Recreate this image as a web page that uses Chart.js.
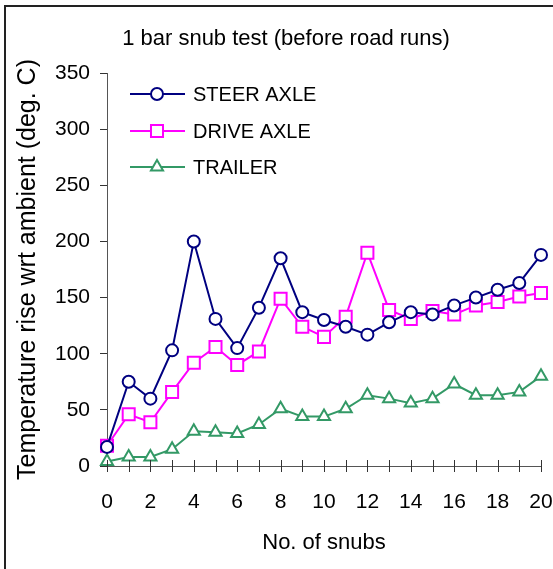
<!DOCTYPE html>
<html lang="en">
<head>
  <meta charset="UTF-8">
  <title>1 bar snub test</title>
  <script src="https://cdn.jsdelivr.net/npm/chart.js"></script>
  <style>
    body { margin: 0; background: #fff; }
    #wrap { position: relative; width: 553px; height: 569px; overflow: hidden; }
    #frame { position: absolute; left: 4px; top: 5px; width: 700px; height: 700px;
             border-left: 2px solid #222; border-top: 2px solid #222; }
    #chart { position: absolute; left: 0; top: 0; }
  </style>
</head>
<body>
  <div id="wrap">
    <div id="frame"></div>
    <canvas id="chart" width="553" height="569"></canvas>
  </div>

  <script>
    // data
    const snubs = [0, 1, 2, 3, 4, 5, 6, 7, 8, 9, 10, 11, 12, 13, 14, 15, 16, 17, 18, 19, 20];
    const steerAxle = [17, 75, 60, 103, 200, 131, 105, 141, 185, 137, 130, 124, 117, 128, 137, 135, 143, 150, 157, 163, 188];
    const driveAxle = [18, 46, 39, 66, 92, 106, 90, 102, 149, 124, 115, 133, 190, 139, 131, 138, 135, 143, 146, 151, 154];
    const trailer = [4, 8, 8, 15, 31, 30, 29, 37, 51, 44, 44, 51, 63, 60, 56, 60, 73, 63, 63, 66, 80];
    const xLabelEvery = 2;
    const yMin = 0, yMax = 350, yStep = 50;

    const FONT = 'Liberation Sans, Arial, sans-serif';

    function toPoints(vals) {
      return vals.map((v, i) => ({ x: snubs[i], y: v }));
    }

    function marker(ctx, style, x, y, r) {
      ctx.beginPath();
      if (style === 'circle') {
        ctx.arc(x, y, r, 0, Math.PI * 2);
      } else if (style === 'rect') {
        const s = Math.SQRT1_2 * r;
        ctx.rect(x - s, y - s, 2 * s, 2 * s);
      } else {
        ctx.moveTo(x, y - r);
        ctx.lineTo(x + r * Math.sin(Math.PI / 3), y + r / 2);
        ctx.lineTo(x - r * Math.sin(Math.PI / 3), y + r / 2);
        ctx.closePath();
      }
      ctx.fill();
      ctx.stroke();
    }

    // crossing tick marks on the x axis, the legend box and the title
    const extras = {
      id: 'extras',
      afterDraw(chart) {
        const ctx = chart.ctx;
        const xs = chart.scales.x;
        const y0 = chart.scales.y.getPixelForValue(0);
        ctx.save();
        ctx.strokeStyle = '#333';
        ctx.lineWidth = 1;
        xs.ticks.forEach(t => {
          const px = Math.round(xs.getPixelForValue(t.value)) + 0.5;
          ctx.beginPath();
          ctx.moveTo(px, y0 - 6);
          ctx.lineTo(px, y0 + 6);
          ctx.stroke();
        });

        // legend
        const rowY = [94, 131, 167];
        chart.data.datasets.forEach((ds, i) => {
          const y = rowY[i];
          ctx.strokeStyle = ds.borderColor;
          ctx.lineWidth = ds.borderWidth;
          ctx.beginPath();
          ctx.moveTo(130, y);
          ctx.lineTo(185, y);
          ctx.stroke();
          ctx.fillStyle = '#fff';
          marker(ctx, ds.pointStyle, 157, y, ds.pointRadius);
          ctx.fillStyle = '#000';
          ctx.font = '20px ' + FONT;
          ctx.textBaseline = 'middle';
          ctx.textAlign = 'left';
          ctx.fillText(ds.label, 193, y + 1);
        });

        // chart title
        ctx.font = '22px ' + FONT;
        ctx.textAlign = 'center';
        ctx.fillText('1 bar snub test (before road runs)', 286, 39);
        ctx.restore();
      }
    };

    const ctx = document.getElementById('chart').getContext('2d');
    new Chart(ctx, {
      type: 'line',
      data: {
        datasets: [
          {
            label: 'STEER AXLE',
            data: toPoints(steerAxle),
            borderColor: '#000080',
            backgroundColor: '#fff',
            borderWidth: 2,
            pointStyle: 'circle',
            pointRadius: 6,
            pointBorderWidth: 2,
            tension: 0,
            clip: false
          },
          {
            label: 'DRIVE AXLE',
            data: toPoints(driveAxle),
            borderColor: '#ff00ff',
            backgroundColor: '#fff',
            borderWidth: 2,
            pointStyle: 'rect',
            pointRadius: 8.5,
            pointBorderWidth: 2,
            tension: 0,
            clip: false
          },
          {
            label: 'TRAILER',
            data: toPoints(trailer),
            borderColor: '#339966',
            backgroundColor: '#fff',
            borderWidth: 2,
            pointStyle: 'triangle',
            pointRadius: 7,
            pointBorderWidth: 2,
            tension: 0,
            clip: false
          }
        ]
      },
      options: {
        responsive: false,
        animation: false,
        layout: { padding: { top: 73, right: 12, left: 0, bottom: 0 } },
        plugins: {
          legend: { display: false },
          tooltip: { enabled: false }
        },
        scales: {
          x: {
            type: 'linear',
            min: snubs[0],
            max: snubs[snubs.length - 1],
            afterFit: s => { s.height = 103; s.paddingLeft = 0; s.paddingRight = 0; },
            border: { color: '#555', width: 1 },
            grid: { display: true, drawOnChartArea: false, drawTicks: false },
            ticks: {
              stepSize: 1,
              padding: 24,
              color: '#000',
              font: { family: FONT, size: 21 },
              maxRotation: 0,
              autoSkip: false,
              callback: v => (v % xLabelEvery === 0 ? v : '')
            },
            title: {
              display: true,
              text: 'No. of snubs',
              color: '#000',
              font: { family: FONT, size: 22 },
              padding: { top: 0, bottom: 13 }
            }
          },
          y: {
            min: yMin,
            max: yMax,
            afterFit: s => { s.width = 107; s.paddingTop = 0; s.paddingBottom = 0; },
            border: { color: '#555', width: 1 },
            grid: { drawOnChartArea: false, drawTicks: true, tickLength: 7, color: '#333' },
            ticks: {
              stepSize: yStep,
              padding: 10,
              color: '#000',
              font: { family: FONT, size: 21 }
            },
            title: {
              display: true,
              text: 'Temperature rise wrt ambient (deg. C)',
              color: '#000',
              font: { family: FONT, size: 25 },
              padding: { top: 13, bottom: 0 }
            }
          }
        }
      },
      plugins: [extras]
    });
  </script>
</body>
</html>
